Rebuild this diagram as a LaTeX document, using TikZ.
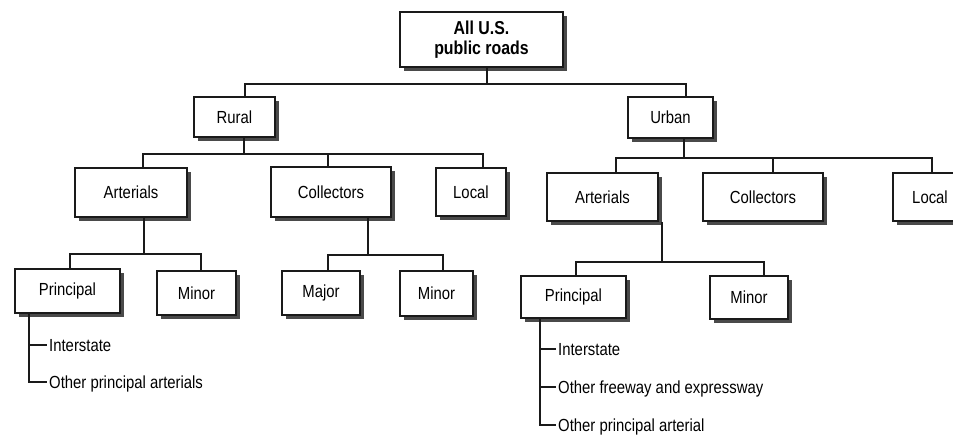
\documentclass[tikz,border=0pt]{standalone}
\usepackage{fontspec}
\newfontfamily\roadfont{Liberation Sans}[FakeStretch=0.85]
\usepackage{tikz}
\usetikzlibrary{shadows}
\definecolor{rink}{HTML}{1A1A1A}
\definecolor{rshade}{HTML}{4A4A4A}

\begin{document}
\begin{tikzpicture}[x=1pt,y=-1pt,
  font=\roadfont\fontsize{17.5}{20}\selectfont,
  box/.style={draw=rink,line width=2pt,fill=white,inner sep=0pt,align=center,
              drop shadow={shadow xshift=4pt,shadow yshift=-4pt,fill=rshade,opacity=1}},
  boxsize/.style 2 args={minimum width=#1pt,minimum height=#2pt},
  link/.style={draw=rink,line width=1.4pt},
  item/.style={anchor=west,inner sep=2pt,text height=12.5pt,text depth=0pt}]
\useasboundingbox (0,0) rectangle (953,435);
\clip (0,0) rectangle (953,435);
\node[box,boxsize={163}{55},font=\roadfont\bfseries\fontsize{18.7}{19.5}\selectfont] (all) at (481.5,39.5) {All U.S.\\public roads};
\node[box,boxsize={81}{40}] (rural) at (234.5,117) {Rural};
\node[box,boxsize={85}{41}] (urban) at (670.5,117.5) {Urban};
\node[box,boxsize={112}{49}] (rart) at (131,192.5) {Arterials};
\node[box,boxsize={120}{50}] (rcol) at (331,192) {Collectors};
\node[box,boxsize={70}{48}] (rloc) at (471,192) {Local};
\node[box,boxsize={111}{48}] (uart) at (602.5,197) {Arterials};
\node[box,boxsize={120}{48}] (ucol) at (763,197) {Collectors};
\node[box,boxsize={74}{48}] (uloc) at (930,197) {Local};
\node[box,boxsize={105}{44}] (rpri) at (67.5,291) {Principal};
\node[box,boxsize={79}{44}] (rmin) at (196.5,293) {Minor};
\node[box,boxsize={78}{44}] (rmaj) at (321,293) {Major};
\node[box,boxsize={73}{45}] (rmnr) at (436.5,293.5) {Minor};
\node[box,boxsize={105}{42}] (upri) at (573.5,297) {Principal};
\node[box,boxsize={78}{43}] (umin) at (749,297.5) {Minor};
\node[item] (rint) at (47,345) {Interstate};
\node[item] (roth) at (47,382) {Other principal arterials};
\node[item] (uint) at (556,349) {Interstate};
\node[item] (ufwy) at (556,387) {Other freeway and expressway};
\node[item] (uoth) at (556,425) {Other principal arterial};
\draw[link] ([xshift=5.5pt]all.south) -- ++(0,16) coordinate (j0);
\draw[link] ([xshift=10.5pt]rural.north) |- (j0) -| ([xshift=15.5pt]urban.north);
\draw[link] ([xshift=9.5pt]rural.south) -- ++(0,16) coordinate (j1);
\draw[link] ([xshift=12pt]rart.north) |- (j1) -| ([xshift=12pt]rloc.north);
\draw[link] ([xshift=-3pt]rcol.north) -- ([xshift=-3pt]rcol.north |- j1);
\draw[link] ([xshift=13.5pt]urban.south) -- ++(0,19) coordinate (j2);
\draw[link] ([xshift=13.5pt]uart.north) |- (j2) -| ([xshift=2pt]uloc.north);
\draw[link] ([xshift=10pt]ucol.north) -- ([xshift=10pt]ucol.north |- j2);
\draw[link] ([xshift=13pt]rart.south) -- ++(0,36) coordinate (j3);
\draw[link] ([xshift=2.5pt]rpri.north) |- (j3) -| ([xshift=4.5pt]rmin.north);
\draw[link] ([xshift=37pt]rcol.south) -- ++(0,37) coordinate (j4);
\draw[link] ([xshift=7pt]rmaj.north) |- (j4) -| ([xshift=6.5pt]rmnr.north);
\draw[link] ([xshift=59.5pt]uart.south) -- ++(0,40) coordinate (j5);
\draw[link] ([xshift=2.5pt]upri.north) |- (j5) -| ([xshift=15pt]umin.north);
\draw[link] ([xshift=-38.5pt]rpri.south) |- (rint.west);
\draw[link] ([xshift=-38.5pt]rpri.south) |- (roth.west);
\draw[link] ([xshift=-33.5pt]upri.south) |- (uint.west);
\draw[link] ([xshift=-33.5pt]upri.south) |- (ufwy.west);
\draw[link] ([xshift=-33.5pt]upri.south) |- (uoth.west);
\end{tikzpicture}
\end{document}
